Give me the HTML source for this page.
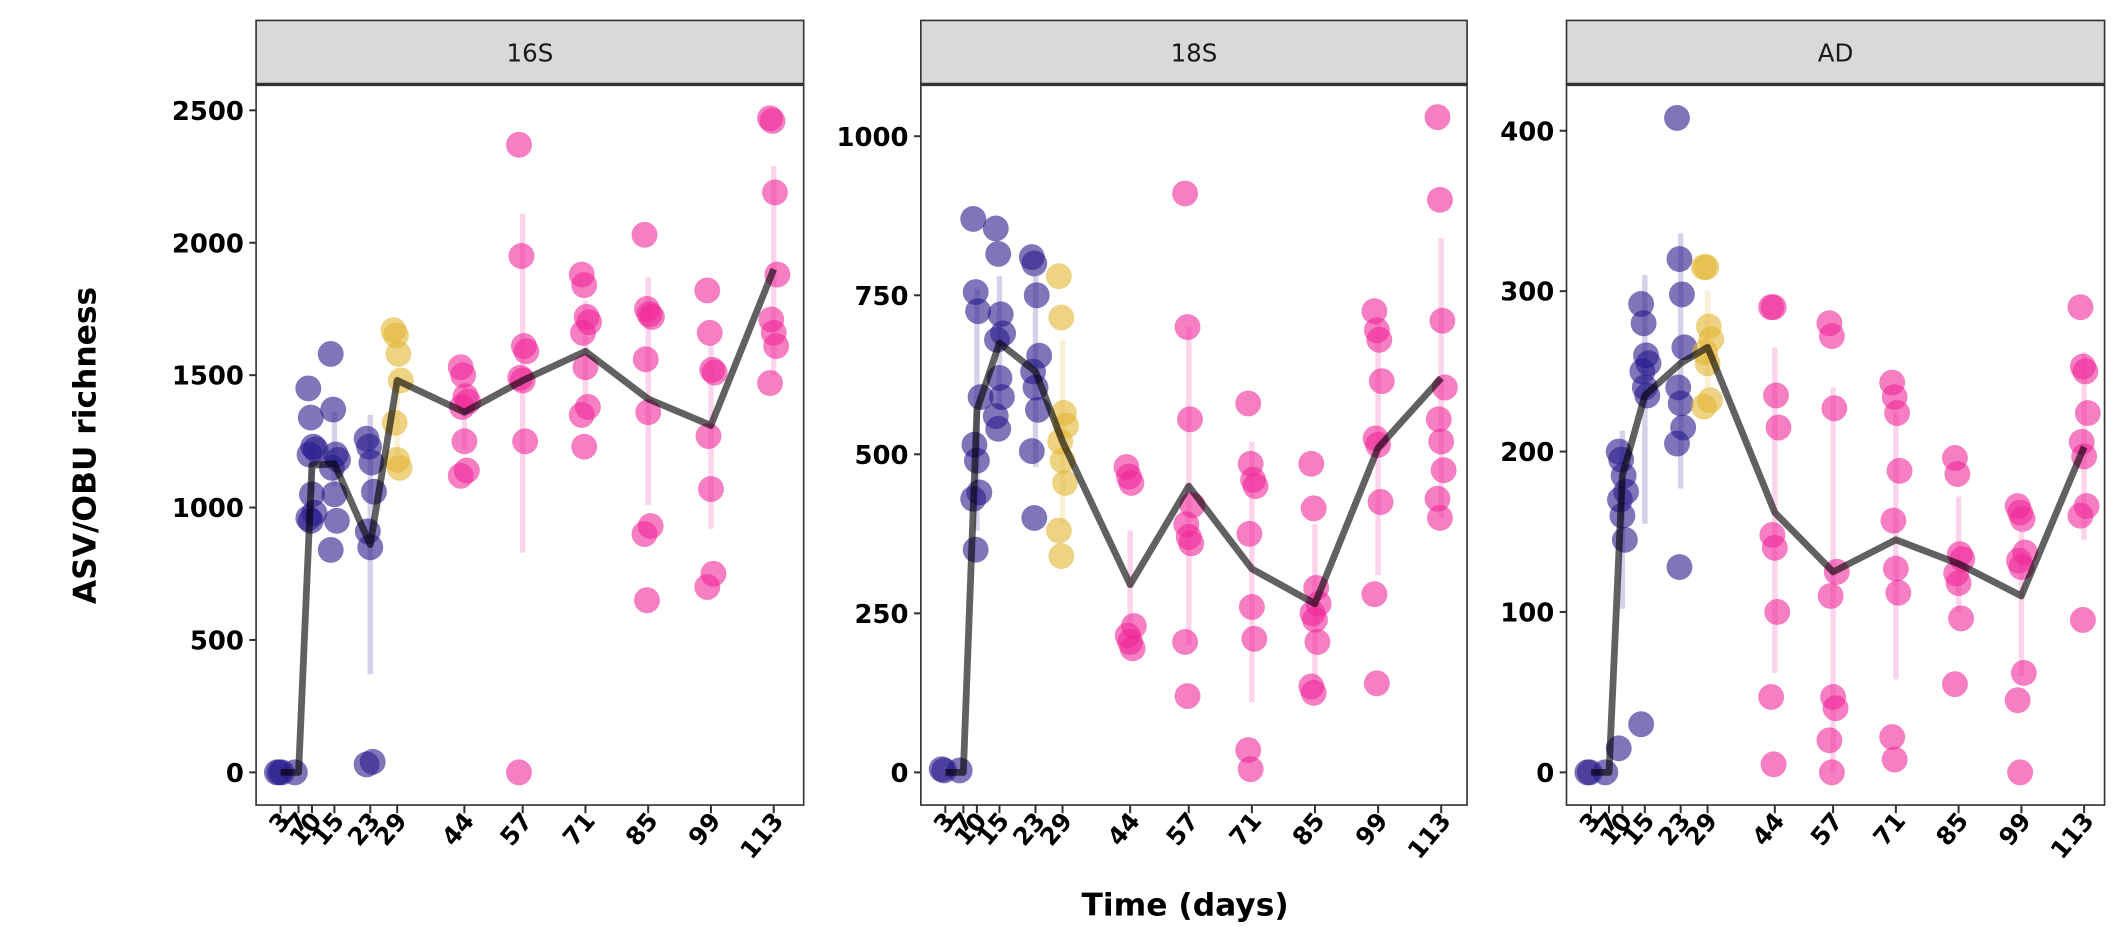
<!DOCTYPE html>
<html><head><meta charset="utf-8"><style>
html,body{margin:0;padding:0;background:#fff}
svg{display:block}
text{font-family:"DejaVu Sans","Liberation Sans",sans-serif}
</style></head><body>
<svg id="chart" width="2125" height="944" viewBox="0 0 1560 693" xmlns="http://www.w3.org/2000/svg">
<text transform="translate(70,327) rotate(-90)" text-anchor="middle" font-size="23" font-weight="bold">ASV/OBU richness</text>
<text x="870" y="672" text-anchor="middle" font-size="23" font-weight="bold">Time (days)</text>
</svg>
<script>
const days = [3,7,10,15,23,29,44,57,71,85,99,113];
const tickLabels = ["3","7","10","15","23","29","44","57","71","85","99","113"];
const pts16S = [[0,0,0],[0],[1450,1340,1230,1220,1200,1050,980,960,950],[1580,1370,1200,1180,1150,1050,950,840],[1260,1230,1170,1060,910,850,40,30],[1670,1650,1580,1480,1320,1180,1150],[1530,1500,1420,1400,1380,1250,1140,1120],[2370,1950,1610,1590,1490,1480,1250,0],[1880,1840,1720,1700,1660,1530,1380,1350,1230],[2030,1750,1730,1720,1560,1360,930,900,650],[1820,1660,1520,1510,1270,1070,750,700],[2470,2460,2190,1880,1710,1660,1610,1470]];
const mean16S = [0,0,1160,1165,860,1480,1360,1480,1590,1410,1310,1900];
const err16S = [[0,0],[0,0],[1050,1230],[1080,1360],[370,1350],[1200,1500],[1220,1470],[830,2110],[1400,1780],[1010,1870],[920,1620],[1500,2290]];
const pts18S = [[5,3],[3],[870,755,725,590,515,490,440,430,350],[855,815,720,690,680,620,590,560,540],[810,800,750,655,630,605,570,505,400],[780,715,565,545,520,490,455,380,340],[480,465,455,230,215,205,195],[910,700,555,420,390,370,360,205,120],[580,485,460,450,375,260,210,35,5],[485,415,290,265,250,240,205,135,125],[725,695,680,615,525,515,425,280,140],[1030,900,710,605,555,520,475,430,400]];
const mean18S = [0,0,570,675,630,520,295,450,320,265,510,620];
const err18S = [[0,0],[0,0],[380,760],[570,780],[480,780],[390,680],[230,380],[200,700],[110,520],[140,390],[310,710],[400,840]];
const ptsAD = [[0,0],[0],[200,195,185,175,170,160,145,15],[292,280,260,255,250,240,235,30],[408,320,298,265,240,230,215,205,128],[315,315,278,270,262,255,232,228],[290,290,235,215,148,140,100,47,5],[280,272,227,125,110,47,40,20,0],[243,234,224,188,157,127,112,22,8],[196,186,136,133,124,118,96,55],[166,162,158,137,132,128,62,45,0],[290,253,250,224,206,197,166,160,95]];
const meanAD = [0,0,185,235,255,265,162,125,145,130,110,203];
const errAD = [[0,0],[0,0],[102,213],[155,310],[177,336],[240,300],[62,265],[0,240],[58,225],[100,172],[60,150],[145,262]];
const yTicks16S = [0,500,1000,1500,2000,2500];
const yTicks18S = [0,250,500,750,1000];
const yTicksAD = [0,100,200,300,400];

const NS="http://www.w3.org/2000/svg";
const svg=document.getElementById('chart');
function mk(tag,attrs,parent){const e=document.createElementNS(NS,tag);for(const k in attrs)e.setAttribute(k,attrs[k]);(parent||svg).appendChild(e);return e;}
function colorFor(d){return d<=23?'#2a1a8c':(d===29?'#e2b633':'#f0289a');}

const panels=[
 {name:'16S',x0:188,x1:590,pts:pts16S,mean:mean16S,err:err16S,yt:yTicks16S,yMax:2500,yPix:81,xa:206,xb:568},
 {name:'18S',x0:676,x1:1077,pts:pts18S,mean:mean18S,err:err18S,yt:yTicks18S,yMax:1000,yPix:100,xa:694,xb:1058},
 {name:'AD',x0:1150,x1:1545,pts:ptsAD,mean:meanAD,err:errAD,yt:yTicksAD,yMax:400,yPix:96,xa:1168,xb:1530}
];
const Y0=567, PT=62, PB=591;
panels.forEach(p=>{
 const g=mk('g',{});
 
 
 const xs=d=>p.xa+(d-3)*(p.xb-p.xa)/110;
 const ys=v=>Y0-v*(Y0-p.yPix)/p.yMax;
 const strip=mk('rect',{x:p.x0,y:15,width:p.x1-p.x0,height:47,fill:'#d9d9d9',stroke:'#333','stroke-width':1.2},g);
 
 
 const st=mk('text',{x:(p.x0+p.x1)/2,y:45,'text-anchor':'middle','font-size':18,fill:'#1a1a1a'},g);
 st.textContent=p.name;
 
 
 mk('rect',{x:p.x0,y:PT,width:p.x1-p.x0,height:PB-PT,fill:'#fff',stroke:'#333','stroke-width':1.2},g);
 mk('line',{x1:p.x0,x2:p.x1,y1:PT,y2:PT,stroke:'#333','stroke-width':2.5},g);
 p.yt.forEach(v=>{
  mk('line',{x1:p.x0-5,x2:p.x0,y1:ys(v),y2:ys(v),stroke:'#333','stroke-width':1.5},g);
  const t=mk('text',{x:p.x0-9,y:ys(v)+7,'text-anchor':'end','font-size':19,'font-weight':'bold'},g);
  t.textContent=v;
  
  
 });
 days.forEach((d,i)=>{
  const x=xs(d);
  mk('line',{x1:x,x2:x,y1:PB,y2:PB+6,stroke:'#333','stroke-width':1.5},g);
  const t=mk('text',{x:0,y:0,'text-anchor':'end','font-size':18,'font-weight':'bold',transform:`translate(${x+8},${PB+12}) rotate(-50)`},g);
  t.textContent=tickLabels[i];
  
  
 });
 days.forEach((d,i)=>{
  const e=p.err[i]; if(e[1]<=e[0])return;
  const l=mk('line',{x1:xs(d),x2:xs(d),y1:ys(e[0]),y2:ys(e[1]),stroke:colorFor(d),'stroke-opacity':0.2,'stroke-width':4},g);
  
  
 });
 days.forEach((d,i)=>{
  p.pts[i].forEach((v,j)=>{
   const jit=((j*37)%7-3)*0.9;
   const c=mk('circle',{cx:xs(d)+jit,cy:ys(v),r:9.5,fill:colorFor(d),'fill-opacity':0.6},g);
   
   
  });
 });
 const path=days.map((d,i)=>(i?'L':'M')+xs(d).toFixed(1)+','+ys(p.mean[i]).toFixed(1)).join(' ');
 const ln=mk('path',{d:path,fill:'none',stroke:'#000','stroke-opacity':0.62,'stroke-width':5,'stroke-linejoin':'round'},g);
 
 
});
</script>
</body></html>
